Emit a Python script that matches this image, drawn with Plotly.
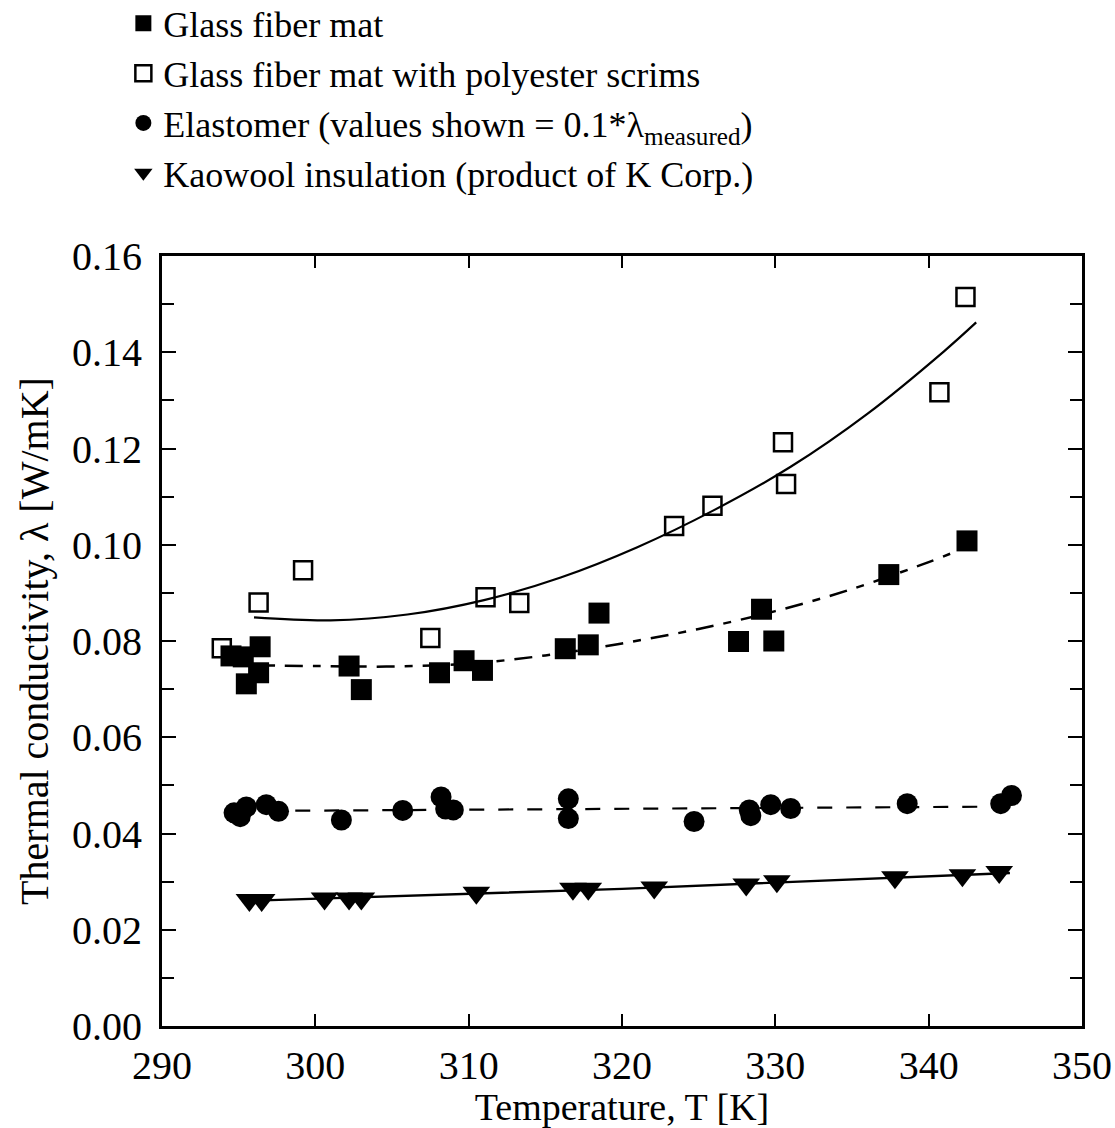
import plotly.graph_objects as go

# ---- measured data: temperature T [K], thermal conductivity lambda [W/mK] ----
gf_T = [294.5, 295.3, 296.4, 296.3, 295.5, 302.2, 303.0, 308.1, 309.7, 310.9,
        316.3, 317.8, 318.5, 327.6, 329.1, 329.9, 337.4, 342.5]
gf_k = [0.0769, 0.0767, 0.0788, 0.0734, 0.0711, 0.0748, 0.0699, 0.0734, 0.0759, 0.0739,
        0.0784, 0.0792, 0.0858, 0.0799, 0.0866, 0.0800, 0.0938, 0.1008]

scrim_T = [293.9, 296.3, 299.2, 307.5, 311.1, 313.3, 323.4, 325.9, 330.5, 330.7, 340.7, 342.4]
scrim_k = [0.0785, 0.0880, 0.0947, 0.0806, 0.0891, 0.0879, 0.1039, 0.1081, 0.1213, 0.1126,
           0.1317, 0.1515]

elast_T = [294.7, 295.1, 295.5, 296.8, 297.6, 301.7, 305.7, 308.2, 308.5, 309.0,
           316.5, 316.5, 324.7, 328.3, 328.4, 329.7, 331.0, 338.6, 344.7, 345.4]
elast_k = [0.0443, 0.0435, 0.0455, 0.0460, 0.0446, 0.0428, 0.0448, 0.0476, 0.0451, 0.0449,
           0.0472, 0.0431, 0.0425, 0.0449, 0.0437, 0.0460, 0.0452, 0.0462, 0.0462, 0.0479]

kao_T = [295.7, 296.5, 300.6, 302.2, 303.0, 310.5, 316.8, 317.8, 322.1, 328.1,
         330.1, 337.8, 342.2, 344.6]
kao_k = [0.0262, 0.0262, 0.0265, 0.0265, 0.0265, 0.0277, 0.0285, 0.0285, 0.0288, 0.0294,
         0.0301, 0.0309, 0.0313, 0.0320]

# ---- fitted curves, read as point lists ----
scrim_fit_T = [296.0, 301.0, 306.0, 311.0, 316.0, 321.0, 326.0, 331.0, 336.0, 341.0, 343.1]
scrim_fit_k = [0.0849, 0.0843, 0.0855, 0.0885, 0.0932, 0.0995, 0.1072, 0.1162, 0.1272, 0.1402,
               0.1462]

gf_fit_T = [295.0, 300.0, 305.0, 310.0, 315.0, 320.0, 325.0, 330.0, 335.0, 340.0, 342.0]
gf_fit_k = [0.0750, 0.0748, 0.0747, 0.0753, 0.0770, 0.0795, 0.0825, 0.0862, 0.0908, 0.0964,
            0.0989]

elast_fit_T = [296.8, 345.4]
elast_fit_k = [0.0447, 0.0456]

kao_fit_T = [296.6, 320.0, 345.3]
kao_fit_k = [0.0261, 0.0285, 0.0318]

# ---- labels ----
x_title = "Temperature, T [K]"
y_title = "Thermal conductivity, λ [W/mK]"
names = [
    "Glass fiber mat",
    "Glass fiber mat with polyester scrims",
    "Elastomer (values shown = 0.1*λ<sub>measured</sub>)",
    "Kaowool insulation (product of K Corp.)",
]

FONT = "Liberation Serif, Times New Roman, serif"
INK = "black"

fig = go.Figure()

# fit lines (not in legend)
fig.add_trace(go.Scatter(x=scrim_fit_T, y=scrim_fit_k, mode="lines", showlegend=False,
                         line=dict(color=INK, width=2.2, shape="spline"), hoverinfo="skip"))
fig.add_trace(go.Scatter(x=gf_fit_T, y=gf_fit_k, mode="lines", showlegend=False,
                         line=dict(color=INK, width=2.5, shape="spline",
                                   dash="18px,10px,8px,10px"), hoverinfo="skip"))
fig.add_trace(go.Scatter(x=elast_fit_T, y=elast_fit_k, mode="lines", showlegend=False,
                         line=dict(color=INK, width=2.2, dash="15px,14px"), hoverinfo="skip"))
fig.add_trace(go.Scatter(x=kao_fit_T, y=kao_fit_k, mode="lines", showlegend=False,
                         line=dict(color=INK, width=2.4, shape="spline"), hoverinfo="skip"))

# measured points
fig.add_trace(go.Scatter(x=gf_T, y=gf_k, mode="markers", name=names[0],
                         marker=dict(symbol="square", size=21, color=INK)))
fig.add_trace(go.Scatter(x=scrim_T, y=scrim_k, mode="markers", name=names[1],
                         marker=dict(symbol="square-open", size=18, color=INK,
                                     line=dict(width=2.5, color=INK))))
fig.add_trace(go.Scatter(x=elast_T, y=elast_k, mode="markers", name=names[2],
                         marker=dict(symbol="circle", size=21, color=INK)))
fig.add_trace(go.Scatter(x=kao_T, y=kao_k, mode="markers", name=names[3],
                         marker=dict(symbol="triangle-down", size=24, color=INK)))

axis_common = dict(
    showline=True, linecolor=INK, linewidth=3, mirror="allticks",
    ticks="inside", tickcolor=INK, tickwidth=2,
    showgrid=False, zeroline=False,
    tickfont=dict(family=FONT, size=40, color=INK),
)

fig.update_xaxes(range=[290, 350], dtick=10, tick0=290, ticklen=12,
                 title_text=x_title, title_standoff=8, ticklabelstandoff=2,
                 title_font=dict(family=FONT, size=38, color=INK), **axis_common)
fig.update_yaxes(range=[0, 0.16], dtick=0.02, tick0=0, ticklen=14, tickformat=".2f",
                 minor=dict(dtick=0.01, ticks="inside", ticklen=12, tickwidth=2, tickcolor=INK),
                 title_text=y_title, title_standoff=12, ticklabelstandoff=9,
                 title_font=dict(family=FONT, size=40, color=INK), **axis_common)

fig.update_layout(
    width=1115, height=1128,
    margin=dict(l=162, r=33, t=256, b=102, autoexpand=False),
    paper_bgcolor="white", plot_bgcolor="white",
    font=dict(family=FONT, color=INK),
    showlegend=True,
    legend=dict(
        x=-0.042, xanchor="left", y=1.341, yanchor="top",
        font=dict(family=FONT, size=36, color=INK),
        bgcolor="rgba(0,0,0,0)", borderwidth=0,
        itemwidth=30, tracegroupgap=0,
    ),
)

fig.write_html("out.html")
